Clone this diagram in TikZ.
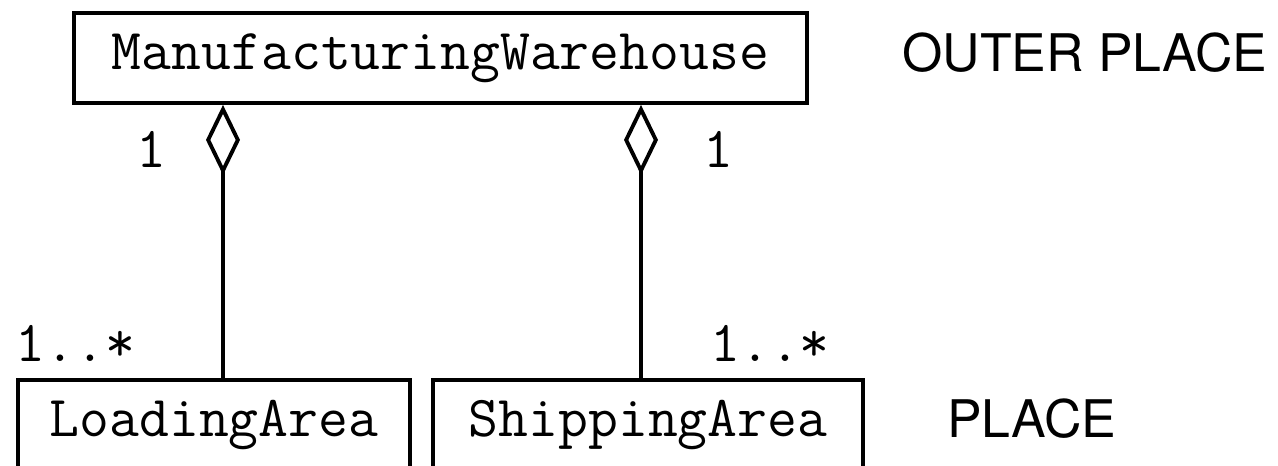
\documentclass[tikz,border=0pt]{standalone}
\usepackage{fontspec}
\newfontfamily\placefont{TeX Gyre Heros}
\usetikzlibrary{arrows.meta}
\tikzset{
  classbox/.style={draw,line width=2.2pt,minimum height=1.8cm,inner sep=0pt,
    font=\fontsize{33}{38}\selectfont\ttfamily},
  mult/.style={anchor=base,inner sep=0pt,font=\fontsize{33}{38}\selectfont\ttfamily},
  level/.style={anchor=base west,inner sep=0pt,font=\fontsize{29.5}{34}\selectfont\placefont},
  aggr/.style={line width=2.2pt,-{Diamond[open,length=1.4cm,width=0.68cm]}}
}
\begin{document}
\begin{tikzpicture}
  \useasboundingbox (0,0) rectangle (25.56,9.32);
  % classes
  \node[classbox,minimum width=14.66cm] (wh) at (8.81,8.16) {ManufacturingWarehouse};
  \node[classbox,minimum width=7.84cm] (load) at (4.28,0.82) {LoadingArea};
  \node[classbox,minimum width=8.6cm] (ship) at (12.96,0.82) {ShippingArea};

  % aggregations
  \coordinate (lx) at (4.46,0);
  \coordinate (sx) at (12.82,0);
  \draw[aggr] (lx |- load.north) -- (lx |- wh.south);
  \draw[aggr] (sx |- ship.north) -- (sx |- wh.south);

  % multiplicities
  \node[mult] (whl) at (3.02,5.96) {1};
  \node[mult] (whs) at (14.36,5.96) {1};
  \node[mult] (loadm) at (1.51,2.08) {1..*};
  \node[mult] (shipm) at (15.4,2.08) {1..*};

  % levels
  \node[level] (outer) at (18.04,7.88) {OUTER PLACE};
  \node[level] (inner) at (18.94,0.56) {PLACE};
\end{tikzpicture}
\end{document}
